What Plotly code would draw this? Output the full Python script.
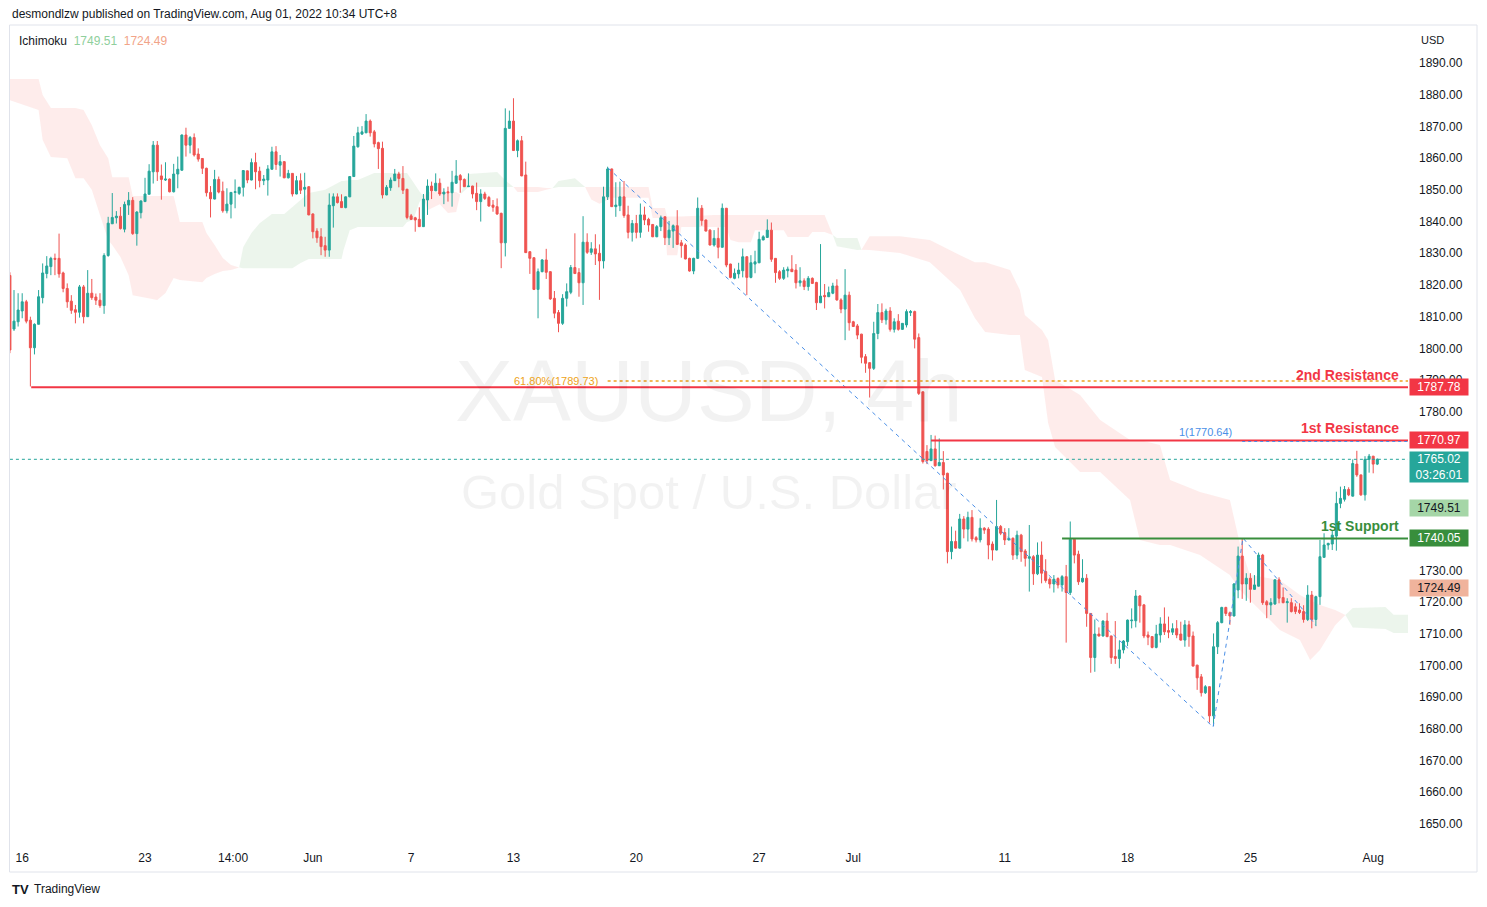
import plotly.graph_objects as go

# ---------------- data ----------------
bar_index = list(range(-1, 334))  # 4h bars, May 13 .. Aug 01 2022

opens = [
 1823.0,1806.1,1808.4,1811.8,1814.7,1808.9,1800.2,1807.6,1816.0,1823.6,
 1825.8,1828.4,1828.4,1823.8,1818.9,1814.9,1812.2,1811.4,1819.4,1810.0,
 1817.4,1816.2,1815.2,1813.5,1829.3,1839.3,1841.2,1841.7,1837.6,1845.2,
 1846.7,1836.2,1842.8,1846.3,1848.6,1855.7,1864.1,1854.4,1853.1,1853.4,
 1849.4,1855.0,1856.2,1867.3,1864.1,1866.5,1861.3,1859.9,1856.8,1849.2,
 1847.1,1853.3,1849.6,1843.4,1845.5,1849.2,1848.9,1850.8,1856.0,1853.1,
 1858.6,1855.9,1852.9,1853.1,1856.5,1862.0,1857.8,1858.9,1853.8,1855.2,
 1848.7,1852.9,1850.2,1851.0,1842.4,1837.0,1835.2,1832.4,1831.0,1845.0,
 1847.8,1846.3,1844.4,1847.8,1854.2,1863.6,1867.6,1868.0,1871.7,1868.3,
 1864.9,1863.1,1848.4,1850.7,1852.9,1855.0,1853.6,1850.2,1841.8,1841.2,
 1840.7,1838.4,1846.8,1851.2,1849.7,1852.1,1848.7,1849.4,1849.1,1852.1,
 1854.5,1853.3,1851.0,1851.2,1848.9,1846.3,1848.7,1847.6,1845.2,1844.7,
 1842.6,1833.3,1869.4,1871.7,1862.4,1865.5,1854.7,1830.5,1828.6,1818.6,
 1824.2,1827.9,1824.2,1815.8,1811.3,1807.9,1815.8,1817.7,1825.5,1823.9,
 1820.7,1833.5,1830.3,1831.4,1830.0,1827.6,1847.8,1856.6,1844.7,1845.0,
 1847.8,1842.1,1836.6,1839.4,1836.6,1842.1,1840.7,1839.1,1835.2,1838.4,
 1841.5,1834.9,1837.0,1838.7,1833.3,1832.6,1828.4,1824.4,1828.4,1844.2,
 1840.5,1837.3,1832.6,1834.7,1831.9,1844.2,1826.6,1822.1,1823.5,1824.5,
 1828.9,1822.4,1826.6,1827.0,1834.2,1835.0,1837.3,1828.4,1824.2,1822.1,
 1824.5,1825.0,1824.7,1820.7,1821.3,1819.5,1822.1,1820.8,1814.4,1816.7,
 1816.3,1817.4,1819.7,1815.3,1812.4,1816.8,1808.4,1807.1,1804.5,1797.4,
 1795.5,1793.7,1804.7,1811.3,1809.0,1811.8,1806.0,1808.6,1806.0,1807.4,
 1811.3,1811.6,1803.4,1786.3,1767.5,1764.6,1768.3,1763.0,1764.0,1760.6,
 1735.9,1739.1,1737.0,1746.2,1743.0,1746.7,1740.3,1739.6,1743.3,1743.0,
 1738.3,1736.4,1743.8,1741.9,1739.6,1740.1,1734.8,1741.1,1736.1,1733.8,
 1734.3,1728.9,1734.8,1729.6,1727.2,1725.7,1727.4,1725.4,1728.0,1723.0,
 1739.8,1735.1,1726.4,1727.5,1716.4,1702.5,1709.9,1709.3,1714.0,1709.3,
 1702.8,1702.2,1704.9,1707.5,1714.1,1714.1,1721.9,1719.1,1709.6,1709.1,
 1705.7,1709.6,1713.1,1711.0,1710.5,1711.6,1709.9,1708.0,1712.8,1709.3,
 1700.1,1696.4,1691.4,1693.3,1684.1,1705.9,1713.5,1718.3,1716.6,1715.6,
 1723.8,1734.5,1725.7,1727.5,1724.0,1725.0,1734.8,1720.1,1719.1,1719.4,
 1727.0,1721.4,1719.8,1719.8,1718.5,1717.5,1717.0,1714.5,1722.2,1714.5,
 1721.7,1734.1,1738.0,1738.3,1740.8,1751.1,1752.4,1755.5,1753.4,1763.5,
 1760.1,1753.8,1765.0,1766.0,1763.5]

highs = [
 1824.0,1818.4,1817.4,1817.4,1815.3,1810.0,1807.9,1818.4,1826.8,1829.1,
 1828.9,1829.9,1836.2,1824.2,1820.5,1816.8,1813.7,1820.0,1820.0,1824.7,
 1821.9,1817.3,1817.4,1830.0,1841.5,1849.0,1843.3,1844.6,1846.3,1849.3,
 1847.7,1843.3,1846.7,1853.8,1858.1,1865.4,1865.4,1858.0,1858.7,1853.6,
 1858.2,1860.5,1867.5,1869.6,1867.0,1867.8,1863.1,1860.0,1857.0,1851.2,
 1856.3,1854.2,1852.6,1850.5,1849.3,1853.3,1851.0,1856.2,1856.1,1859.9,
 1861.7,1857.3,1854.7,1857.8,1863.6,1863.8,1861.0,1859.1,1856.3,1855.3,
 1854.4,1855.2,1855.4,1851.1,1842.6,1837.9,1837.9,1835.2,1848.9,1848.9,
 1848.9,1848.6,1847.9,1854.3,1867.0,1869.9,1870.1,1873.9,1872.2,1868.9,
 1865.2,1865.2,1851.5,1853.9,1856.6,1855.7,1857.5,1850.3,1842.4,1841.5,
 1844.5,1848.7,1853.3,1852.6,1855.2,1853.6,1850.5,1851.0,1856.0,1859.4,
 1855.0,1853.6,1855.2,1851.3,1852.3,1850.2,1849.4,1848.1,1846.8,1847.3,
 1842.8,1875.7,1875.0,1878.9,1865.9,1867.0,1858.9,1830.6,1828.7,1825.2,
 1828.2,1831.4,1824.3,1818.1,1812.1,1817.1,1820.5,1826.3,1836.3,1825.3,
 1841.7,1836.3,1833.5,1836.0,1832.8,1851.0,1857.3,1856.7,1852.4,1852.6,
 1852.8,1845.0,1840.5,1842.1,1845.7,1844.7,1841.2,1839.2,1838.9,1841.9,
 1841.6,1840.2,1839.1,1843.6,1834.2,1833.1,1828.6,1828.6,1847.6,1845.2,
 1840.6,1837.6,1837.3,1838.1,1845.7,1844.3,1826.7,1825.2,1827.0,1831.5,
 1829.1,1829.4,1830.8,1836.8,1835.7,1840.7,1839.7,1828.5,1824.7,1825.6,
 1825.8,1829.4,1826.6,1825.6,1822.1,1822.8,1822.4,1821.0,1832.9,1820.3,
 1819.5,1820.7,1821.8,1815.8,1825.0,1817.9,1808.7,1807.7,1804.6,1798.2,
 1795.6,1808.4,1814.0,1814.2,1812.5,1813.0,1809.5,1810.8,1808.0,1812.3,
 1812.1,1811.9,1804.7,1786.4,1769.5,1772.7,1772.5,1771.6,1767.6,1760.8,
 1743.8,1742.5,1747.8,1747.1,1748.5,1749.0,1740.8,1746.4,1743.6,1743.6,
 1739.1,1752.2,1744.3,1743.3,1743.3,1740.4,1742.5,1741.5,1736.7,1744.3,
 1734.8,1738.8,1739.1,1733.5,1727.8,1728.5,1727.8,1728.5,1731.7,1745.4,
 1740.1,1736.2,1733.5,1728.8,1716.5,1714.5,1712.0,1714.2,1716.6,1709.4,
 1714.0,1707.8,1708.0,1714.5,1718.0,1723.8,1722.2,1719.4,1710.7,1709.2,
 1712.8,1715.2,1718.3,1715.4,1713.3,1714.3,1713.8,1714.3,1714.1,1710.7,
 1700.2,1697.3,1693.8,1693.4,1710.1,1714.0,1718.5,1718.5,1717.0,1726.0,
 1737.5,1740.1,1729.1,1729.1,1728.5,1735.6,1735.2,1720.6,1721.2,1727.2,
 1727.8,1724.6,1721.2,1721.2,1719.6,1719.6,1719.0,1725.3,1723.5,1722.0,
 1739.6,1741.7,1738.7,1742.7,1754.8,1756.4,1756.6,1756.2,1765.0,1767.7,
 1760.2,1766.0,1766.7,1766.1,1765.3]

lows = [
 1798.5,1805.5,1806.9,1809.5,1807.9,1788.0,1798.1,1807.6,1814.2,1822.1,
 1823.1,1823.1,1822.3,1817.7,1812.8,1810.9,1807.9,1809.7,1807.9,1810.0,
 1815.3,1813.7,1812.8,1810.9,1828.9,1839.3,1839.4,1837.5,1836.6,1842.1,
 1835.8,1832.4,1841.0,1846.3,1848.6,1852.0,1852.8,1846.9,1852.8,1849.2,
 1849.2,1850.5,1856.0,1860.5,1861.5,1860.5,1858.9,1855.0,1847.9,1841.3,
 1847.0,1848.9,1842.8,1842.6,1841.0,1844.2,1848.4,1847.9,1852.1,1853.0,
 1850.2,1850.8,1851.5,1848.2,1856.4,1856.3,1854.2,1853.7,1853.6,1847.9,
 1848.6,1848.7,1844.7,1842.0,1834.7,1833.3,1829.4,1828.9,1828.9,1838.1,
 1845.7,1844.3,1844.2,1847.7,1854.1,1863.3,1867.3,1867.9,1866.8,1863.4,
 1856.6,1847.3,1848.3,1849.7,1852.8,1850.8,1848.7,1840.7,1840.5,1836.8,
 1838.3,1838.3,1842.1,1847.1,1849.6,1848.1,1845.5,1846.3,1844.7,1851.9,
 1849.1,1850.9,1850.9,1847.3,1843.6,1840.0,1846.8,1844.7,1843.1,1842.1,
 1825.3,1829.0,1869.3,1862.3,1860.3,1854.3,1830.1,1823.5,1818.4,1809.5,
 1824.0,1821.9,1815.3,1809.5,1805.1,1807.4,1813.2,1817.1,1823.5,1816.3,
 1813.7,1829.8,1829.5,1826.3,1815.3,1825.2,1846.8,1844.6,1841.5,1843.3,
 1841.2,1834.7,1833.7,1834.7,1834.9,1838.9,1836.8,1835.1,1835.1,1837.0,
 1832.6,1832.6,1831.7,1832.6,1828.6,1828.1,1824.2,1823.4,1828.2,1838.7,
 1836.9,1832.5,1832.1,1828.4,1831.8,1825.6,1822.1,1821.8,1822.1,1822.4,
 1816.8,1822.1,1823.7,1826.9,1834.1,1834.9,1827.3,1820.7,1821.6,1821.6,
 1822.4,1824.1,1818.9,1819.5,1818.4,1818.2,1820.3,1812.1,1814.3,1812.6,
 1816.2,1817.1,1815.0,1811.1,1802.6,1805.6,1806.8,1802.9,1795.3,1792.3,
 1784.5,1793.2,1802.9,1808.0,1807.5,1805.3,1805.0,1805.6,1805.8,1806.6,
 1810.2,1800.0,1785.3,1763.7,1763.5,1764.5,1762.7,1762.9,1755.5,1732.2,
 1733.5,1736.9,1736.9,1740.1,1739.1,1739.1,1738.8,1738.8,1741.5,1733.5,
 1733.1,1736.3,1741.1,1738.0,1739.4,1733.3,1733.5,1732.7,1731.2,1723.3,
 1725.4,1728.5,1725.9,1726.1,1724.3,1723.0,1724.3,1723.3,1707.2,1722.2,
 1732.2,1725.4,1726.1,1712.2,1697.7,1698.0,1709.1,1709.1,1708.9,1700.5,
 1700.5,1699.1,1703.8,1706.1,1711.7,1712.0,1713.5,1708.6,1706.4,1705.4,
 1705.4,1707.2,1709.6,1708.6,1709.6,1708.6,1707.8,1705.9,1705.9,1699.7,
 1692.3,1690.2,1691.0,1682.0,1680.9,1703.6,1713.3,1715.6,1712.8,1715.5,
 1721.2,1721.0,1720.4,1719.8,1723.9,1724.9,1719.1,1714.9,1715.9,1719.1,
 1719.6,1719.6,1713.5,1716.7,1716.2,1716.2,1713.5,1714.0,1711.7,1712.4,
 1719.1,1734.0,1736.5,1736.4,1736.2,1749.6,1751.7,1753.4,1753.3,1759.5,
 1753.5,1752.0,1760.8,1760.6,1763.2]

closes = [
 1799.5,1808.6,1812.1,1814.7,1808.6,1800.2,1807.6,1816.3,1823.8,1826.0,
 1828.4,1828.1,1823.5,1818.9,1814.7,1812.0,1811.4,1819.4,1810.0,1817.4,
 1816.0,1815.2,1813.5,1829.3,1839.5,1841.3,1841.7,1837.8,1845.4,1846.7,
 1836.2,1843.0,1846.5,1848.7,1855.9,1864.1,1855.7,1853.3,1853.4,1849.4,
 1855.0,1856.5,1867.3,1864.1,1866.5,1861.0,1859.7,1856.8,1849.1,1847.2,
 1853.3,1849.3,1843.4,1845.5,1849.2,1849.4,1850.8,1856.1,1853.1,1858.6,
 1855.7,1852.9,1853.4,1856.6,1862.0,1858.0,1858.9,1853.8,1855.2,1848.7,
 1852.9,1849.9,1850.8,1842.1,1836.8,1834.9,1832.1,1831.0,1845.2,1847.8,
 1846.0,1844.4,1847.8,1854.2,1863.8,1868.0,1868.3,1871.7,1868.0,1864.5,
 1863.0,1848.4,1850.8,1853.1,1855.0,1853.6,1849.9,1841.3,1840.7,1840.5,
 1838.4,1847.1,1851.2,1849.7,1852.1,1848.7,1849.3,1849.1,1852.4,1854.4,
 1853.1,1851.0,1851.2,1848.7,1846.3,1848.7,1847.3,1844.9,1844.5,1842.4,
 1833.3,1869.4,1871.7,1862.4,1865.5,1854.4,1830.2,1828.4,1818.6,1824.2,
 1827.9,1824.0,1815.6,1811.1,1807.9,1815.8,1817.9,1825.5,1823.6,1820.7,
 1833.5,1830.3,1831.4,1829.8,1827.6,1847.8,1856.6,1844.7,1845.2,1847.8,
 1841.9,1836.6,1839.4,1836.6,1842.1,1840.5,1838.9,1835.2,1838.4,1841.2,
 1834.9,1837.3,1838.7,1832.8,1832.4,1828.2,1824.4,1828.4,1844.2,1840.3,
 1837.0,1832.6,1834.7,1831.9,1844.2,1826.3,1822.4,1823.7,1824.7,1828.9,
 1822.4,1827.0,1827.3,1834.4,1835.2,1837.3,1828.1,1823.9,1822.1,1824.7,
 1825.0,1824.2,1820.7,1821.3,1819.5,1822.1,1820.5,1814.4,1816.5,1816.3,
 1817.6,1819.7,1815.3,1812.4,1816.8,1808.1,1806.9,1804.2,1797.2,1795.3,
 1793.7,1804.7,1811.3,1809.0,1811.8,1806.0,1808.4,1806.0,1807.9,1811.6,
 1811.6,1802.9,1785.8,1764.3,1764.6,1768.3,1763.0,1764.0,1760.1,1735.9,
 1739.1,1737.0,1746.2,1743.0,1746.7,1739.9,1739.6,1743.3,1742.7,1738.0,
 1736.4,1743.8,1741.7,1739.6,1740.1,1734.8,1741.1,1735.9,1733.8,1734.3,
 1728.9,1734.8,1729.1,1726.8,1725.7,1727.2,1725.4,1728.0,1723.0,1739.8,
 1734.8,1726.4,1727.5,1716.4,1702.5,1709.9,1709.3,1714.0,1709.1,1702.5,
 1702.2,1704.9,1707.7,1714.3,1714.3,1721.9,1718.8,1709.3,1708.9,1705.7,
 1709.9,1713.1,1710.6,1710.5,1711.6,1709.6,1708.0,1712.8,1709.1,1699.8,
 1696.1,1691.4,1693.3,1684.1,1705.9,1713.5,1718.3,1716.4,1715.6,1725.7,
 1734.5,1725.7,1727.5,1724.0,1725.4,1734.8,1719.8,1719.1,1719.8,1727.0,
 1721.2,1719.8,1720.1,1717.0,1717.0,1716.7,1714.5,1722.2,1714.5,1721.7,
 1734.3,1738.0,1738.5,1741.1,1751.1,1752.7,1755.5,1753.8,1763.7,1760.1,
 1753.8,1765.0,1766.0,1763.5,1765.02]

# Ichimoku cloud pieces: (bar index, upper bound, lower bound)
cloud_pink = [
 [(-1,1885.0,1878.3),(6,1885.0,1875.2),(7,1879.9,1865.7),(9,1875.8,1860.4),(13,1875.8,1860.0),
  (15,1875.8,1853.7),(17,1875.2,1853.7),(19,1870.4,1850.0),(21,1864.1,1842.1),(23,1860.0,1834.2),
  (24,1854.0,1832.6),(26,1854.0,1828.8),(28,1854.0,1823.1),(29,1848.1,1816.8),(35,1848.1,1815.3),
  (37,1848.1,1817.5),(39,1848.1,1822.2),(40.5,1839.9,1821.6),(46,1839.9,1820.9),(47,1836.4,1822.2),
  (49,1832.6,1823.5),(51,1828.5,1824.4),(53,1826.3,1824.7),(55,1825.5,1825.5)],
 [(100,1848.0,1848.0),(101,1849.3,1843.6),(104,1849.3,1845.5),(106,1849.3,1842.7),(108,1849.3,1843.0),
  (109,1848.5,1848.5)],
 [(122,1850.9,1850.9),(123,1850.9,1849.3),(128,1850.9,1849.3),(130,1850.6,1850.0),(131.5,1850.5,1850.5)],
 [(139.5,1850.9,1850.9),(141,1850.9,1847.0),(143,1850.9,1845.6),(146,1850.9,1847.5),(155,1850.9,1847.5),
  (156,1844.3,1841.1),(159,1844.3,1841.1),(159.5,1841.6,1829.4),(162,1841.6,1829.4),(163,1841.6,1838.3),
  (171,1842.1,1838.3),(174,1842.1,1838.3),(175,1842.1,1834.2),(177,1842.1,1833.5),(180,1842.1,1833.5),
  (181,1842.1,1837.3),(188,1842.1,1837.3),(189,1842.1,1835.1),(194,1842.1,1835.1),(195,1842.1,1836.7),
  (198,1842.1,1836.7),(200,1835.8,1835.8)],
 [(207,1831.1,1831.1),(209,1835.4,1831.0),(216.4,1835.4,1830.1),(223.7,1834.2,1827.2),(231.1,1829.4,1818.4),
  (234.7,1827.2,1809.6),(237.2,1827.2,1805.2),(243.3,1824.7,1804.2),(245.7,1818.4,1804.2),(246.9,1810.5,1793.2),
  (251.1,1805.8,1791.0),(252.6,1802.6,1776.5),(254.3,1790.0,1768.9),(260.4,1785.3,1761.0),(265.3,1777.4,1761.0),
  (272.6,1771.1,1752.2),(275.0,1771.1,1739.6),(279.9,1769.5,1738.0),(282.4,1758.5,1738.0),(289.7,1754.7,1734.8),
  (297.0,1752.2,1728.5),(299.5,1738.0,1723.8),(301.9,1728.5,1720.6),(309.2,1726.9,1711.2),(314.1,1722.2,1708.0),
  (316.6,1720.6,1701.7),(319.0,1719.1,1704.9),(322.7,1717.5,1712.7),(325.2,1715.9,1715.9)],
]
cloud_green = [
 [(55,1825.5,1825.5),(56,1832.0,1825.3),(58,1836.4,1825.3),(60,1839.5,1825.3),(63,1842.4,1825.3),
  (66,1842.4,1825.3),(68,1844.6,1825.3),(70,1846.8,1826.9),(72,1849.0,1828.2),(76,1850.0,1828.2),
  (80,1852.8,1828.2),(80.5,1852.8,1831.0),(82,1853.1,1837.3),(84,1853.1,1838.3),(88,1855.3,1838.3),
  (95,1855.3,1838.3),(96,1855.3,1839.9),(97.5,1852.5,1840.5),(99,1849.6,1846.0),(100,1848.0,1848.0)],
 [(109,1848.5,1848.5),(111,1855.0,1850.9),(118,1855.6,1850.9),(120,1853.0,1850.9),(122,1850.9,1850.9)],
 [(131.5,1850.5,1850.5),(133,1852.8,1850.9),(137,1853.7,1850.9),(139.5,1850.9,1850.9)],
 [(200,1835.8,1835.8),(201,1834.8,1832.2),(206,1834.8,1831.0),(207,1831.1,1831.1)],
 [(325.2,1715.9,1715.9),(327,1718.1,1712.0),(335,1718.4,1711.5),(337,1716.0,1710.2),(345,1716.0,1710.2)],
]

# drawings
fib_path_x = [145.1, 292.9, 300.2, 318.0]
fib_path_y = [1856.9, 1680.6, 1740.2, 1712.7]
resistance_2 = 1787.78
resistance_1 = 1770.97
support_1 = 1740.05
fib_618 = 1789.73
fib_ext_1 = 1770.64
last_price = 1765.02
ichimoku_lead1 = 1749.51
ichimoku_lead2 = 1724.49

time_tick_pos = [2, 32, 53.5, 73, 97, 122, 152, 182, 205, 242, 272, 302, 332]
time_tick_text = ['16', '23', '14:00', 'Jun', '7', '13', '20', '27', 'Jul', '11', '18', '25', 'Aug']
# price scale labels that are not hidden under the price badges
price_ticks = [1650, 1660, 1670, 1680, 1690, 1700, 1710, 1720, 1730,
               1780, 1790, 1800, 1810, 1820, 1830, 1840, 1850, 1860, 1870, 1880, 1890]
price_tick_text = ['1650.00', '1660.00', '1670.00', '1680.00', '1690.00', '1700.00', '1710.00',
                   '1720.00', '1730.00', '1780.00', '1790.00', '1800.00', '1810.00', '1820.00',
                   '1830.00', '1840.00', '1850.00', '1860.00', '1870.00', '1880.00', '1890.00']

# ---------------- styling ----------------
FONT = "Liberation Sans"
TXT = "#131722"
UP = "#26a69a"
DOWN = "#ef5350"
RED = "#f23645"
GREEN = "#388e3c"
BLUE = "#4a8fe7"
ORANGE = "#eea320"

W, H = 1487, 907
L, R, T, B = 10, 79, 25, 64
PW, PH = W - L - R, H - T - B


def px_x(px):
    return (px - L) / PW


def px_y(py):
    return 1 - (py - T) / PH


fig = go.Figure()

fig.add_trace(go.Candlestick(
    x=bar_index, open=opens, high=highs, low=lows, close=closes,
    increasing=dict(line=dict(color=UP, width=1), fillcolor=UP),
    decreasing=dict(line=dict(color=DOWN, width=1), fillcolor=DOWN),
    whiskerwidth=0, hoverinfo="skip", showlegend=False))

fig.add_trace(go.Scatter(
    x=fib_path_x, y=fib_path_y, mode="lines",
    line=dict(color=BLUE, width=1, dash="4px,4px"),
    hoverinfo="skip", showlegend=False))

shapes = []


def cloud_path(piece):
    xs = [p[0] for p in piece]
    up = [p[1] for p in piece]
    lo = [p[2] for p in piece]
    pts = [f"{x},{y}" for x, y in zip(xs, up)] + [f"{x},{y}" for x, y in zip(xs[::-1], lo[::-1])]
    return "M " + " L ".join(pts) + " Z"


for piece in cloud_pink:
    shapes.append(dict(type="path", path=cloud_path(piece), xref="x", yref="y", layer="below",
                       fillcolor="rgba(244,67,54,0.10)", line=dict(width=0)))
for piece in cloud_green:
    shapes.append(dict(type="path", path=cloud_path(piece), xref="x", yref="y", layer="below",
                       fillcolor="rgba(67,160,71,0.10)", line=dict(width=0)))

x_right = 340.5
shapes.append(dict(type="line", xref="x", yref="y", x0=-1, x1=x_right, y0=last_price, y1=last_price,
                   line=dict(color=UP, width=1, dash="dot")))
shapes.append(dict(type="line", xref="x", yref="y", x0=145, x1=x_right, y0=fib_618, y1=fib_618,
                   line=dict(color=ORANGE, width=1.5, dash="dot")))
shapes.append(dict(type="line", xref="x", yref="y", x0=4.2, x1=x_right, y0=resistance_2, y1=resistance_2,
                   line=dict(color=RED, width=2)))
shapes.append(dict(type="line", xref="x", yref="y", x0=224, x1=x_right, y0=resistance_1, y1=resistance_1,
                   line=dict(color=RED, width=2)))
shapes.append(dict(type="line", xref="x", yref="y", x0=300, x1=x_right, y0=fib_ext_1, y1=fib_ext_1,
                   line=dict(color=BLUE, width=1, dash="dot")))
shapes.append(dict(type="line", xref="x", yref="y", x0=256, x1=x_right, y0=support_1, y1=support_1,
                   line=dict(color=GREEN, width=2)))
shapes.append(dict(type="rect", xref="paper", yref="paper", x0=px_x(9.5), x1=px_x(1477), y0=px_y(872), y1=px_y(25),
                   line=dict(color="#e0e3eb", width=1), fillcolor="rgba(0,0,0,0)", layer="below"))

ann = []
ann.append(dict(xref="paper", yref="paper", x=px_x(10), y=px_y(14), xanchor="left", yanchor="middle",
                text="desmondlzw published on TradingView.com, Aug 01, 2022 10:34 UTC+8",
                font=dict(family=FONT, size=12, color=TXT), showarrow=False))
ann.append(dict(xref="paper", yref="paper", x=px_x(17), y=px_y(41), xanchor="left", yanchor="middle",
                text=("Ichimoku&nbsp;&nbsp;<span style='color:#8fcf9c'>1749.51</span>&nbsp;&nbsp;"
                      "<span style='color:#f2a488'>1724.49</span>"),
                font=dict(family=FONT, size=12, color=TXT), showarrow=False))
ann.append(dict(xref="paper", yref="paper", x=px_x(1419), y=px_y(40), xanchor="left", yanchor="middle",
                text="USD", font=dict(family=FONT, size=11, color=TXT), showarrow=False))
ann.append(dict(xref="paper", yref="paper", x=px_x(709), y=px_y(390), xanchor="center", yanchor="middle",
                text="XAUUSD, 4h", font=dict(family=FONT, size=87, color="rgba(0,0,0,0.05)"), showarrow=False))
ann.append(dict(xref="paper", yref="paper", x=px_x(709), y=px_y(492), xanchor="center", yanchor="middle",
                text="Gold Spot / U.S. Dollar", font=dict(family=FONT, size=49, color="rgba(0,0,0,0.05)"),
                showarrow=False))
ann.append(dict(xref="x", yref="y", x=143.1, y=fib_618, xanchor="right", yanchor="middle",
                text="61.80%(1789.73)", font=dict(family=FONT, size=11, color=ORANGE), showarrow=False))
ann.append(dict(xref="x", yref="y", x=298.0, y=fib_ext_1, xanchor="right", yanchor="middle", yshift=9,
                text="1(1770.64)", font=dict(family=FONT, size=11, color=BLUE), showarrow=False))
ann.append(dict(xref="paper", yref="y", x=px_x(1401), y=resistance_2, xanchor="right", yanchor="middle", yshift=12,
                text="<b>2nd Resistance</b>", font=dict(family=FONT, size=14, color=RED), showarrow=False))
ann.append(dict(xref="paper", yref="y", x=px_x(1401), y=resistance_1, xanchor="right", yanchor="middle", yshift=12,
                text="<b>1st Resistance</b>", font=dict(family=FONT, size=14, color=RED), showarrow=False))
ann.append(dict(xref="paper", yref="y", x=px_x(1401), y=support_1, xanchor="right", yanchor="middle", yshift=12,
                text="<b>1st Support</b>", font=dict(family=FONT, size=14, color=GREEN), showarrow=False))


def price_box(val, text, bg, fg, h=14, two=False):
    d = dict(xref="paper", yref="y", x=px_x(1409), y=val, xanchor="left",
             yanchor="middle", text=text, bgcolor=bg, font=dict(family=FONT, size=12, color=fg),
             width=56, height=h, borderpad=1, showarrow=False, align="center")
    if two:
        d["yanchor"] = "top"
        d["yshift"] = 8
    return d


ann.append(price_box(resistance_2, "1787.78", RED, "white"))
ann.append(price_box(resistance_1, "1770.97", RED, "white"))
ann.append(price_box(last_price, "1765.02<br>03:26:01", UP, "white", h=28, two=True))
ann.append(price_box(ichimoku_lead1, "1749.51", "#a5d6a7", TXT))
ann.append(price_box(support_1, "1740.05", GREEN, "white"))
ann.append(price_box(ichimoku_lead2, "1724.49", "#f0b39c", TXT))
ann.append(dict(xref="paper", yref="paper", x=px_x(10), y=px_y(889), xanchor="left", yanchor="middle",
                text="<b>TV</b>", font=dict(family=FONT, size=13, color="#131722"), showarrow=False))
ann.append(dict(xref="paper", yref="paper", x=px_x(32), y=px_y(889), xanchor="left", yanchor="middle",
                text="TradingView", font=dict(family=FONT, size=12, color="#131722"), showarrow=False))

fig.update_layout(
    width=W, height=H, autosize=False,
    margin=dict(l=L, r=R, t=T, b=B),
    paper_bgcolor="white", plot_bgcolor="white",
    showlegend=False, hovermode=False,
    shapes=shapes, annotations=ann,
    xaxis=dict(range=[-0.98, x_right], showgrid=False, zeroline=False, showline=False,
               tickmode="array", tickvals=time_tick_pos, ticktext=time_tick_text, ticks="",
               tickfont=dict(family=FONT, size=12, color=TXT), ticklabelstandoff=6,
               rangeslider=dict(visible=False), fixedrange=True),
    yaxis=dict(range=[1644.0, 1902.0], side="right", showgrid=False, zeroline=False, showline=False,
               tickmode="array", tickvals=price_ticks, ticktext=price_tick_text, ticks="",
               tickfont=dict(family=FONT, size=12, color=TXT), ticklabelstandoff=10, fixedrange=True),
)

fig.write_html("out.html", config={"displayModeBar": False},
               post_script="document.body.style.margin='0px';")
